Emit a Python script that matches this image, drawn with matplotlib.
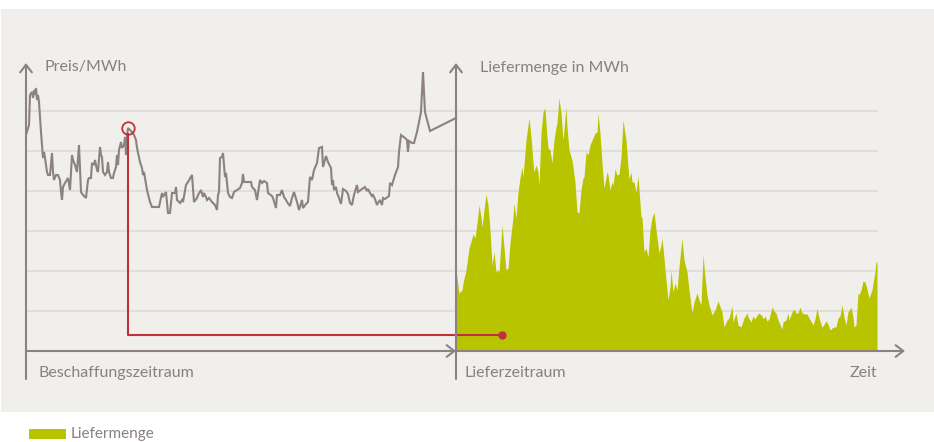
import matplotlib.pyplot as plt
from matplotlib.patches import Rectangle

# Beschaffungszeitraum: Tag und Preis (EUR/MWh)
price_day = [0, 3, 4, 6, 7, 8, 9, 10, 11, 12, 13, 15, 17, 18, 19, 21, 22, 24, 26, 27,
             28, 30, 32, 34, 35, 36, 37, 39, 42, 44, 46, 47, 49, 51, 53, 55, 57, 60, 62, 63,
             65, 66, 68, 69, 71, 72, 74, 75, 76, 77, 79, 81, 82, 83, 85, 87, 88, 90, 91, 92,
             93, 95, 96, 98, 99, 100, 101, 102, 106, 108, 110, 111, 114, 116, 117, 118, 119, 121, 124, 126,
             131, 133, 136, 137, 140, 141, 142, 144, 146, 149, 150, 151, 154, 156, 157, 160, 162, 166, 168, 171,
             172, 175, 177, 178, 180, 181, 183, 186, 189, 191, 192, 193, 194, 196, 197, 199, 200, 202, 204, 206,
             208, 211, 214, 216, 217, 218, 221, 225, 226, 229, 231, 234, 236, 238, 241, 242, 246, 247, 250, 251,
             254, 256, 258, 260, 261, 264, 266, 268, 271, 273, 276, 277, 280, 282, 284, 286, 288, 291, 293, 296,
             297, 300, 302, 305, 306, 307, 308, 310, 311, 313, 315, 317, 320, 322, 324, 326, 328, 331, 332, 336,
             339, 341, 342, 344, 346, 347, 349, 351, 352, 354, 356, 357, 359, 363, 364, 366, 369, 372, 373, 375,
             379, 381, 382, 383, 386, 388, 391, 395, 397, 399, 404, 430]
price = [216, 226, 256, 259, 253, 261, 256, 263, 251, 256, 249, 219, 193, 199, 193, 179, 176, 176, 198, 179,
         171, 176, 176, 171, 159, 151, 164, 168, 173, 161, 196, 191, 186, 179, 206, 159, 156, 153, 171, 173,
         173, 188, 186, 191, 181, 179, 204, 196, 194, 179, 176, 179, 189, 179, 173, 173, 178, 184, 196, 186,
         201, 209, 203, 206, 214, 196, 216, 223, 219, 216, 211, 203, 189, 183, 176, 179, 173, 161, 149, 144,
         144, 144, 158, 154, 159, 149, 138, 138, 158, 158, 164, 151, 148, 151, 149, 166, 169, 176, 149, 153,
         156, 161, 154, 158, 154, 151, 153, 149, 146, 141, 156, 159, 193, 194, 198, 174, 178, 158, 154, 153,
         159, 161, 163, 168, 177, 169, 169, 169, 164, 161, 151, 171, 168, 170, 168, 158, 155, 153, 143, 156,
         156, 161, 154, 151, 149, 145, 153, 159, 149, 141, 151, 143, 147, 149, 174, 171, 181, 188, 203, 204,
         184, 195, 189, 183, 166, 171, 161, 164, 158, 153, 147, 162, 160, 157, 148, 146, 156, 166, 159, 162,
         164, 160, 162, 158, 155, 156, 152, 146, 148, 151, 146, 153, 152, 155, 168, 166, 176, 184, 199, 216,
         213, 211, 199, 210, 208, 208, 219, 239, 279, 239, 220, 233]

# Lieferzeitraum: Tag und Liefermenge (MWh)
volume_day = [430, 431, 433, 436, 437, 440, 441, 443, 446, 447, 449, 451, 453, 455, 456, 458, 460, 462, 464, 466,
              468, 470, 472, 473, 476, 478, 480, 482, 484, 487, 488, 490, 492, 494, 496, 497, 500, 503, 505, 507,
              508, 510, 512, 513, 515, 517, 519, 521, 522, 524, 526, 528, 530, 531, 533, 535, 537, 540, 541, 543,
              546, 547, 549, 551, 553, 555, 557, 558, 560, 562, 564, 567, 569, 571, 572, 574, 576, 578, 581, 582,
              584, 586, 587, 589, 591, 593, 595, 597, 600, 602, 603, 605, 606, 608, 610, 612, 615, 616, 618, 620,
              622, 624, 626, 628, 630, 632, 633, 635, 636, 638, 640, 642, 644, 645, 647, 649, 651, 653, 656, 658,
              661, 663, 666, 668, 671, 673, 675, 677, 679, 681, 683, 686, 689, 692, 696, 698, 701, 703, 706, 707,
              710, 712, 715, 718, 721, 722, 725, 727, 729, 731, 733, 736, 737, 739, 741, 743, 746, 748, 750, 752,
              753, 756, 757, 760, 762, 763, 766, 768, 770, 772, 774, 776, 779, 781, 783, 786, 787, 789, 791, 793,
              796, 797, 800, 802, 804, 806, 808, 810, 812, 814, 816, 818, 820, 822, 824, 825, 827, 828, 830, 832,
              833, 835, 837, 839, 841, 843, 846, 847, 849, 850, 851]
volume = [80, 74, 58, 61, 68, 81, 88, 103, 113, 117, 113, 128, 146, 134, 124, 141, 157, 146, 121, 86,
          99, 79, 81, 78, 126, 104, 81, 83, 108, 134, 148, 133, 159, 173, 184, 174, 211, 233, 214, 189,
          179, 186, 179, 166, 218, 239, 243, 214, 203, 201, 188, 211, 224, 228, 253, 238, 211, 244, 224, 201,
          191, 184, 169, 139, 138, 161, 173, 174, 199, 196, 206, 213, 218, 219, 238, 218, 188, 163, 179, 176,
          161, 169, 166, 182, 176, 177, 194, 231, 211, 184, 172, 179, 169, 169, 159, 175, 134, 134, 99, 103,
          94, 121, 133, 139, 121, 106, 98, 106, 113, 93, 71, 51, 64, 81, 59, 68, 61, 84, 113, 91,
          79, 61, 38, 49, 58, 51, 46, 96, 74, 56, 46, 36, 41, 50, 39, 24, 31, 33, 45, 29,
          38, 26, 24, 33, 38, 34, 29, 35, 32, 36, 38, 35, 32, 35, 30, 32, 44, 40, 38, 31,
          29, 22, 29, 31, 38, 31, 39, 42, 38, 38, 44, 38, 37, 37, 33, 28, 26, 32, 43, 33,
          24, 25, 30, 27, 21, 23, 24, 24, 33, 35, 46, 34, 26, 39, 42, 44, 34, 24, 26, 58,
          56, 61, 70, 69, 62, 53, 61, 68, 79, 90, 88]

grid_levels = [40, 80, 120, 160, 200, 240]
delivery_start = 430
delivery_end = 851
time_end = 879
buy_day, buy_price = 102, 223
ref_day, ref_level = 476, 16

bg = '#f0efeb'
axis_col = '#8c8280'
text_col = '#8a807e'
green = '#b8c400'
red = '#c0313c'

plt.rcParams['font.family'] = ['Lato', 'DejaVu Sans']

fig = plt.figure(figsize=(9.34, 4.42), dpi=100)
fig.patches.append(Rectangle((1 / 934, 30 / 442), 933 / 934, 403 / 442,
                             transform=fig.transFigure, facecolor=bg, edgecolor='none', zorder=-5))

ax = fig.add_axes([26 / 934, 91 / 442, 880 / 934, 290 / 442])
ax.set_zorder(1)
ax.set_xlim(0, 880)
ax.set_ylim(0, 290)
ax.axis('off')

for g in grid_levels:
    ax.plot([0, delivery_end], [g, g], color='#e0ddd9', lw=1.3, zorder=1)

ax.fill_between(volume_day, volume, 0, color=green, lw=0, zorder=2)
ax.plot(price_day, price, color=axis_col, lw=1.5, zorder=3, solid_joinstyle='miter')

# Kaufzeitpunkt und Verbindung zur Lieferung
ax.plot(buy_day, buy_price, 'o', ms=9, mfc='none', mec=red, mew=1.3, zorder=5)
ax.plot([buy_day, buy_day, ref_day], [buy_price - 6, ref_level, ref_level],
        color=red, lw=1.5, zorder=4)
ax.plot(ref_day, ref_level, 'o', ms=5, color=red, zorder=5)

arrow = dict(arrowstyle='->,head_length=0.55,head_width=0.42', color=axis_col,
             lw=1.5, shrinkA=0, shrinkB=0)
for x0 in [0, delivery_start]:
    ax.annotate('', xy=(x0, 288), xytext=(x0, -28), arrowprops=arrow,
                annotation_clip=False, zorder=6)
ax.annotate('', xy=(delivery_start, 0), xytext=(0, 0), arrowprops=arrow,
            annotation_clip=False, zorder=6)
ax.annotate('', xy=(time_end, 0), xytext=(delivery_start, 0), arrowprops=arrow,
            annotation_clip=False, zorder=6)

ax.text(19, 284, 'Preis/MWh', color=text_col, fontsize=11.5, va='center')
ax.text(454, 283, 'Liefermenge in MWh', color=text_col, fontsize=11.5, va='center')
ax.text(13, -22, 'Beschaffungszeitraum', color=text_col, fontsize=11.5, va='center')
ax.text(438, -22, 'Lieferzeitraum', color=text_col, fontsize=11.5, va='center')
ax.text(delivery_end, -22, 'Zeit', color=text_col, fontsize=11.5, va='center', ha='right')

fig.patches.append(Rectangle((29 / 934, 3 / 442), 37 / 934, 10 / 442,
                             transform=fig.transFigure, facecolor=green, edgecolor='none'))
fig.text(71 / 934, 8 / 442, 'Liefermenge', color=text_col, fontsize=11, va='center')

fig.savefig('out.png', dpi=100, facecolor='white')
